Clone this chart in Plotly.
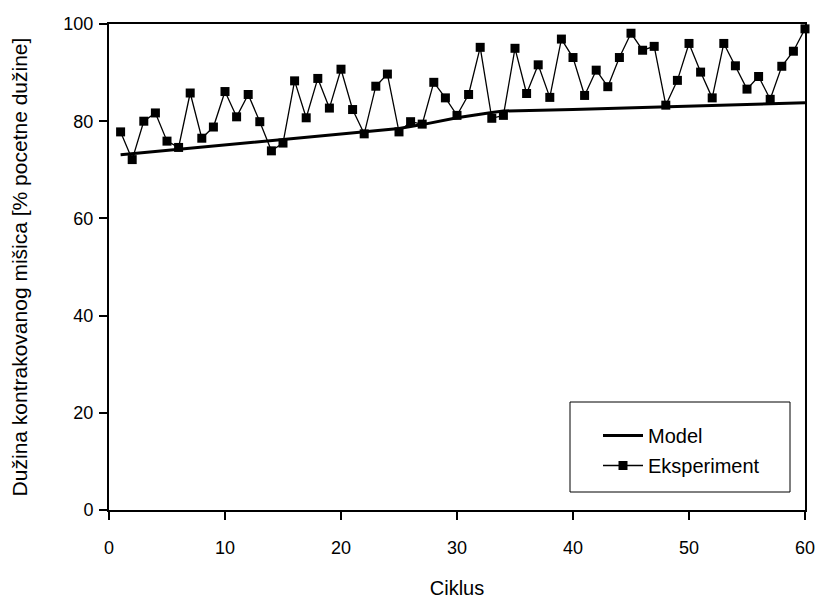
import plotly.graph_objects as go

cycles = list(range(1, 61))
experiment = [77.8, 72.1, 80.0, 81.7, 75.9, 74.6, 85.8, 76.5, 78.8, 86.1,
              80.9, 85.5, 79.9, 73.9, 75.5, 88.3, 80.7, 88.8, 82.7, 90.7,
              82.4, 77.4, 87.2, 89.7, 77.8, 79.9, 79.4, 88.0, 84.8, 81.2,
              85.5, 95.2, 80.6, 81.2, 95.0, 85.7, 91.6, 84.9, 96.9, 93.1,
              85.3, 90.5, 87.1, 93.1, 98.1, 94.6, 95.4, 83.3, 88.4, 96.0,
              90.1, 84.8, 96.0, 91.4, 86.6, 89.2, 84.5, 91.3, 94.4, 99.0]

model_x = [1, 13, 20, 25, 27, 30, 33, 34, 40, 50, 60]
model_y = [73.1, 75.8, 77.4, 78.5, 79.3, 80.7, 81.8, 82.1, 82.4, 83.1, 83.8]

x_ticks = [0, 10, 20, 30, 40, 50, 60]
y_ticks = [0, 20, 40, 60, 80, 100]

FONT = "Liberation Sans, Arial, sans-serif"

fig = go.Figure()
fig.add_trace(go.Scatter(x=model_x, y=model_y, mode="lines", name="Model",
                         legendgroup="m",
                         line=dict(color="black", width=3), cliponaxis=False))
fig.add_trace(go.Scatter(x=cycles, y=experiment, mode="lines+markers", name="Eksperiment",
                         legendgroup="e",
                         line=dict(color="black", width=1.3),
                         marker=dict(symbol="square", size=9, color="black"),
                         cliponaxis=False))

fig.add_shape(type="rect", xref="paper", yref="paper",
              x0=(570 - 109) / 696, x1=(790 - 109) / 696,
              y0=(510 - 492) / 486, y1=(510 - 402) / 486,
              line=dict(color="black", width=1), fillcolor="rgba(0,0,0,0)")

fig.update_layout(
    width=816, height=599,
    margin=dict(l=109, r=11, t=24, b=89),
    plot_bgcolor="white", paper_bgcolor="white",
    font=dict(family=FONT, size=18, color="black"),
    showlegend=True,
    legend=dict(x=(598 - 109) / 696, y=(510 - 416) / 486, xanchor="left", yanchor="top",
                bgcolor="rgba(0,0,0,0)", borderwidth=0,
                font=dict(family=FONT, size=20, color="black"),
                tracegroupgap=1, itemwidth=40),
    xaxis=dict(range=[0, 60], tickvals=x_ticks, ticks="outside", ticklen=8, tickwidth=1.5,
               tickcolor="black", showline=True, linecolor="black", linewidth=2, mirror=True,
               showgrid=False, zeroline=False, automargin=False,
               tickfont=dict(size=18), ticklabelstandoff=12,
               title=dict(text="Ciklus", standoff=27, font=dict(size=20))),
    yaxis=dict(range=[0, 100], tickvals=y_ticks, ticks="outside", ticklen=8, tickwidth=1.5,
               tickcolor="black", showline=True, linecolor="black", linewidth=2, mirror=True,
               showgrid=False, zeroline=False, automargin=False,
               tickfont=dict(size=18), ticklabelstandoff=2,
               title=dict(text="Dužina kontrakovanog mišica [% pocetne dužine]", standoff=30,
                          font=dict(size=21))),
)

fig.write_html("out.html",
               config={"displayModeBar": False},
               post_script="document.body.style.margin='0';document.body.style.padding='0';"
                           "document.body.style.overflow='hidden';")
